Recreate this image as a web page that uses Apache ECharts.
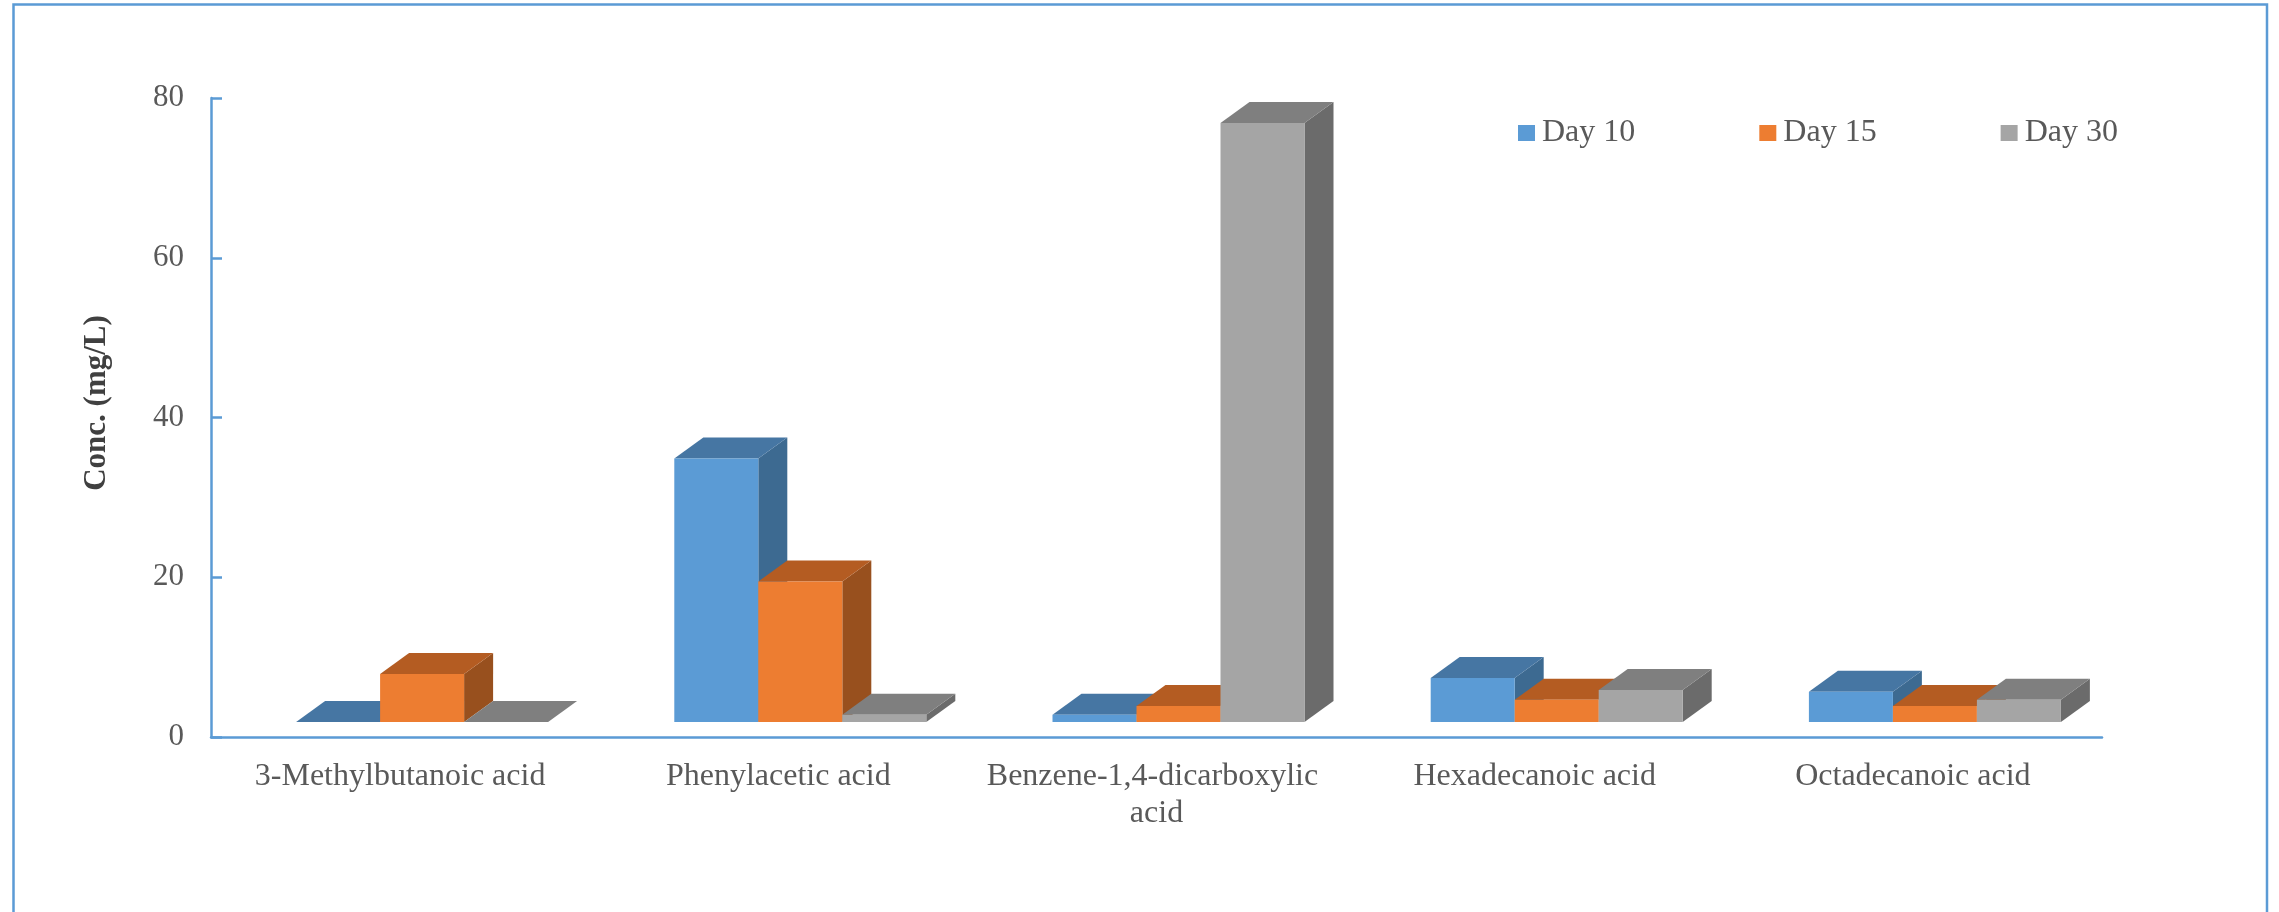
<!DOCTYPE html>
<html><head><meta charset="utf-8">
<style>html,body{margin:0;padding:0;background:#fff}#c{width:2279px;height:912px}</style>
<script src="https://cdn.jsdelivr.net/npm/echarts@6/dist/echarts.min.js"></script>
</head><body><div id="c"></div>
<script>
const categories = ['3-Methylbutanoic acid','Phenylacetic acid','Benzene-1,4-dicarboxylic acid','Hexadecanoic acid','Octadecanoic acid'];
const day10 = [0, 33, 0.9, 5.5, 3.8];
const day15 = [6, 17.6, 2, 2.8, 2];
const day30 = [0, 0.9, 75, 4, 2.8];
const seriesNames = ['Day 10','Day 15','Day 30'];
const seriesValues = [day10, day15, day30];
const faceColors = ['#5b9bd5','#ed7d31','#a5a5a5'];
const topColors = ['#4676a3','#b45c22','#7f7f7f'];
const sideColors = ['#3d6a91','#98501e','#6b6b6b'];
const BAR_W = 84, DX = 29, DY = 21, FLOOR = 15, SHIFT = 22;

const chart = echarts.init(document.getElementById('c'), null, {renderer:'canvas'});
const serif = '"Liberation Serif","Times New Roman",serif';
chart.setOption({
  animation:false,
  backgroundColor:'#fff',
  textStyle:{fontFamily:serif},
  graphic:[{type:'rect',silent:true,z:-1,shape:{x:13.5,y:4.5,width:2253.5,height:940},style:{fill:'none',stroke:'#5b9bd5',lineWidth:2.5}}],
  legend:{
    left:1513, top:112, itemWidth:17, itemHeight:16, itemGap:124, icon:'rect',
    data:seriesNames.map((n,i)=>({name:n,itemStyle:{color:faceColors[i]}})),
    textStyle:{fontFamily:serif,fontSize:32,color:'#595959',padding:[3,0,0,2]}
  },
  grid:{left:211,right:177,top:98,bottom:175,containLabel:false},
  xAxis:{type:'category',data:categories,
    axisLine:{lineStyle:{color:'#5b9bd5',width:2.5}},axisTick:{show:false},
    axisLabel:{color:'#595959',fontFamily:serif,fontSize:32,margin:21,lineHeight:37,width:372,overflow:'break',interval:0}},
  yAxis:{type:'value',min:0,max:80,interval:20,
    name:'Conc. (mg/L)',nameLocation:'middle',nameGap:99,
    nameTextStyle:{fontFamily:serif,fontWeight:'bold',fontSize:31,color:'#404040',padding:[0,0,0,29]},
    axisLine:{show:true,lineStyle:{color:'#5b9bd5',width:2.5}},
    axisTick:{show:true,inside:true,length:11,lineStyle:{color:'#5b9bd5',width:2.5}},
    splitLine:{show:false},
    axisLabel:{color:'#595959',fontFamily:serif,fontSize:31,margin:27,padding:[5,0,0,0]}},
  series:seriesNames.map((name,s)=>({
    name,type:'custom',coordinateSystem:'cartesian2d',
    itemStyle:{color:faceColors[s]},
    encode:{x:0,y:1},
    data:seriesValues[s].map((v,i)=>[i,v]),
    renderItem:(params,api)=>{
      const c = api.coord([api.value(0),api.value(1)]);
      const b = api.coord([api.value(0),0]);
      const x = c[0]+SHIFT+(s-1.5)*BAR_W, x2 = x+BAR_W;
      const top = c[1]-FLOOR, base = b[1]-FLOOR;
      return {type:'group',children:[
        {type:'polygon',shape:{points:[[x2,base],[x2+DX,base-DY],[x2+DX,top-DY],[x2,top]]},style:{fill:sideColors[s]}},
        {type:'polygon',shape:{points:[[x,top],[x+DX,top-DY],[x2+DX,top-DY],[x2,top]]},style:{fill:topColors[s]}},
        {type:'rect',shape:{x,y:top,width:BAR_W,height:base-top},style:{fill:faceColors[s]}}
      ]};
    }
  }))
});
</script></body></html>
